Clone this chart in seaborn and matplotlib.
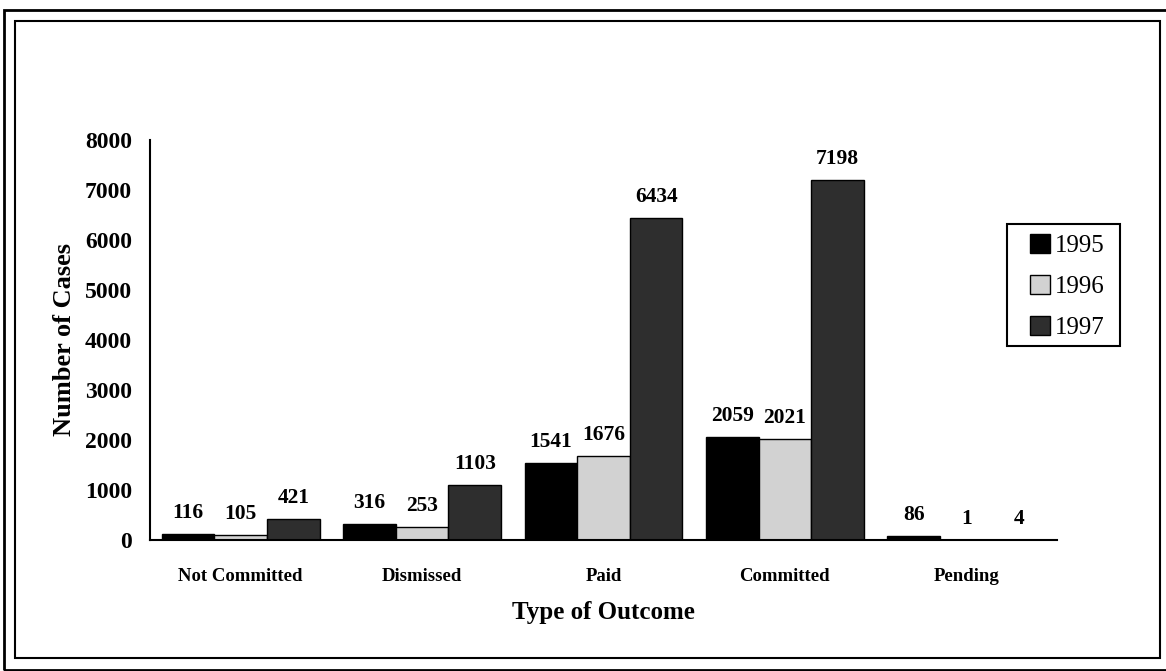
import numpy as np
import pandas as pd
import seaborn as sns
import matplotlib.pyplot as plt
from matplotlib.patches import Rectangle, Patch

# data
outcomes = ["Not Committed", "Dismissed", "Paid", "Committed", "Pending"]
years = ["1995", "1996", "1997"]
cases_1995 = [116, 316, 1541, 2059, 86]
cases_1996 = [105, 253, 1676, 2021, 1]
cases_1997 = [421, 1103, 6434, 7198, 4]

df = pd.DataFrame({
    "Outcome": outcomes * len(years),
    "Year": np.repeat(years, len(outcomes)),
    "Cases": cases_1995 + cases_1996 + cases_1997,
})

sns.set_style("white")
plt.rcParams["font.family"] = ["Liberation Serif", "DejaVu Serif"]
plt.rcParams.update({"text.color": "black", "axes.labelcolor": "black",
                     "xtick.color": "black", "ytick.color": "black"})

W, H = 1166, 671
fig = plt.figure(figsize=(W / 100, H / 100), dpi=100)
ax = fig.add_axes([150 / W, 1 - 540 / H, 907 / W, 400 / H])

palette = {"1995": "#000000", "1996": "#d2d2d2", "1997": "#2e2e2e"}
sns.barplot(data=df, x="Outcome", y="Cases", hue="Year", order=outcomes,
            hue_order=years, palette=palette, width=0.87, saturation=1,
            edgecolor="black", linewidth=1, errorbar=None, legend=False, ax=ax)

# value labels above each bar
for c in ax.containers:
    ax.bar_label(c, fmt="%d", padding=8, fontsize=15.5, fontweight="bold")

ax.set_ylim(0, 8000)
ax.set_yticks(range(0, 8001, 1000))
ax.set_xlim(-0.5, 4.5)
sns.despine(ax=ax)
for s in ["left", "bottom"]:
    ax.spines[s].set_linewidth(1.5)
    ax.spines[s].set_color("black")

ax.tick_params(axis="y", direction="inout", length=10, width=1.2,
               labelsize=17, pad=8)
ax.tick_params(axis="x", which="major", length=0, pad=20, labelsize=13.5)
ax.set_xticks(np.arange(-0.5, 5, 1), minor=True)
ax.tick_params(axis="x", which="minor", direction="inout", length=10, width=1.2)
plt.setp(ax.get_yticklabels(), fontweight="bold")
plt.setp(ax.get_xticklabels(), fontweight="bold")

ax.set_xlabel("Type of Outcome", fontsize=18, fontweight="bold", labelpad=12)
ax.set_ylabel("Number of Cases", fontsize=19, fontweight="bold")
ax.yaxis.set_label_coords((76 - 150) / 907, 0.5)

# legend: entries without frame, box drawn separately
handles = [Patch(facecolor=palette[y], edgecolor="black") for y in years]
fig.legend(handles, years, loc="upper left",
           bbox_to_anchor=(1030 / W, 1 - 234 / H), borderaxespad=0,
           borderpad=0, frameon=False, fontsize=18,
           handlelength=0.8, handleheight=0.8, handletextpad=0.2,
           labelspacing=0.71)
fig.add_artist(Rectangle((1007 / W, 1 - 346 / H), 113 / W, 122 / H,
                         transform=fig.transFigure, fill=False, lw=1.5, ec="black"))

# double frame around the whole picture
fig.add_artist(Rectangle((4 / W, 1 - 670 / H), (W - 4) / W + 0.01, 660 / H,
                         transform=fig.transFigure, fill=False, lw=2, ec="black"))
fig.add_artist(Rectangle((15 / W, 1 - 658 / H), 1145 / W, 637 / H,
                         transform=fig.transFigure, fill=False, lw=1.5, ec="black"))

fig.savefig("out.png", dpi=100)
